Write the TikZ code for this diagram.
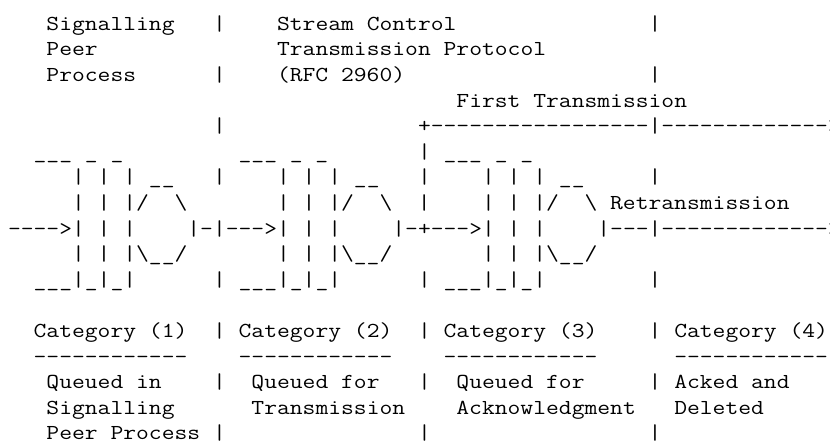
\documentclass[tikz,border=0pt]{standalone}
\usepackage{fontspec}
\setmonofont[FakeStretch=1.1662,WordSpace={1,0,0}]{Latin Modern Mono}
\newcommand{\bsl}{\textbackslash}
\tikzset{asciirow/.style={anchor=base west,inner sep=0pt,outer sep=0pt,text=black,font=\fontsize{16}{19.2}\selectfont\ttfamily}}
\begin{document}
\begin{tikzpicture}[x=0.75pt,y=-0.75pt]
\useasboundingbox (0,0) rectangle (830,441);
\clip (0,0) rectangle (830,441);
\node[asciirow] (r01) at (8,30.3) {~~~Signalling~~~|~~~~Stream~Control~~~~~~~~~~~~~~~|};
\node[asciirow] (r02) at (8,55.9) {~~~Peer~~~~~~~~~~~~~~Transmission~Protocol};
\node[asciirow] (r03) at (8,81.5) {~~~Process~~~~~~|~~~~(RFC~2960)~~~~~~~~~~~~~~~~~~~|};
\node[asciirow] (r04) at (8,107.1) {~~~~~~~~~~~~~~~~~~~~~~~~~~~~~~~~~~~First~Transmission};
\node[asciirow] (r05) at (8,132.7) {~~~~~~~~~~~~~~~~|~~~~~~~~~~~~~~~+-----------------|------------->};
\node[asciirow] (r06) at (8,158.3) {~~\_\_\_~\_~\_~~~~~~~~~\_\_\_~\_~\_~~~~~~~|~\_\_\_~\_~\_};
\node[asciirow] (r07) at (8,183.9) {~~~~~|~|~|~\_\_~~~|~~~~|~|~|~\_\_~~~|~~~~|~|~|~\_\_~~~~~|};
\node[asciirow] (r08) at (8,209.5) {~~~~~|~|~|/~~\bsl~~~~~~~|~|~|/~~\bsl~~|~~~~|~|~|/~~\bsl~Retransmission};
\node[asciirow] (r09) at (8,235.1) {---->|~|~|~~~~|-|--->|~|~|~~~~|-+--->|~|~|~~~~|---|------------->};
\node[asciirow] (r10) at (8,260.7) {~~~~~|~|~|\bsl\_\_/~~~~~~~|~|~|\bsl\_\_/~~~~~~~|~|~|\bsl\_\_/};
\node[asciirow] (r11) at (8,286.3) {~~\_\_\_|\_|\_|~~~~~~|~\_\_\_|\_|\_|~~~~~~|~\_\_\_|\_|\_|~~~~~~~~|};
\node[asciirow] (r13) at (8,337.5) {~~Category~(1)~~|~Category~(2)~~|~Category~(3)~~~~|~Category~(4)};
\node[asciirow] (r14) at (8,363.1) {~~------------~~~~------------~~~~------------~~~~~~------------};
\node[asciirow] (r15) at (8,388.7) {~~~Queued~in~~~~|~~Queued~for~~~|~~Queued~for~~~~~|~Acked~and};
\node[asciirow] (r16) at (8,414.3) {~~~Signalling~~~~~~Transmission~~~~Acknowledgment~~~Deleted};
\node[asciirow] (r17) at (8,439.9) {~~~Peer~Process~|~~~~~~~~~~~~~~~|~~~~~~~~~~~~~~~~~|};
\end{tikzpicture}
\end{document}
